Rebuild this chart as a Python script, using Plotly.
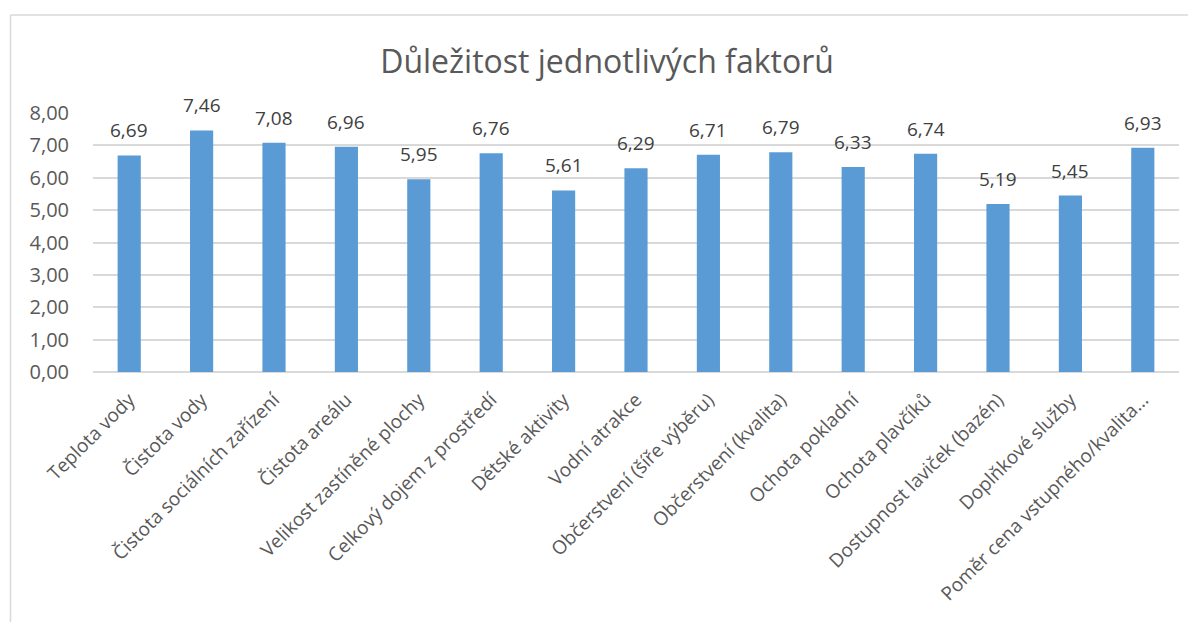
import plotly.graph_objects as go

categories = [
    "Teplota vody", "Čistota vody", "Čistota sociálních zařízení", "Čistota areálu",
    "Velikost zastíněné plochy", "Celkový dojem z prostředí", "Dětské aktivity",
    "Vodní atrakce", "Občerstvení (šíře výběru)", "Občerstvení (kvalita)",
    "Ochota pokladní", "Ochota plavčíků", "Dostupnost laviček (bazén)",
    "Doplňkové služby", "Poměr cena vstupného/kvalita..."
]
values = [6.69, 7.46, 7.08, 6.96, 5.95, 6.76, 5.61, 6.29, 6.71, 6.79, 6.33, 6.74, 5.19, 5.45, 6.93]
y_ticks = [0, 1, 2, 3, 4, 5, 6, 7, 8]

# page body has an 8px margin; figure coordinates below are relative to it
W, H = 1180, 614
L, R, T, B = 85, 9, 105, 250
pw, ph = W - L - R, H - T - B

FONT = "Open Sans"
GRAY = "#595959"


def px(fx):
    return (fx - L) / pw


def py(fy):
    return (H - B - fy) / ph


fig = go.Figure(go.Bar(
    x=categories, y=values,
    marker=dict(color="#5B9BD5", line=dict(width=0)),
    hoverinfo="x+y",
))

annotations = [
    dict(x=c, y=v, xref="x", yref="y", text=f"{v:.2f}".replace(".", ","),
         showarrow=False, yanchor="bottom", yshift=10,
         font=dict(family=FONT, size=19, color="#404040"))
    for c, v in zip(categories, values)
]

fig.update_layout(
    width=W, height=H,
    margin=dict(l=L, r=R, t=T, b=B, autoexpand=False),
    paper_bgcolor="white", plot_bgcolor="white",
    separators=", ",
    bargap=0.68,
    title=dict(text="Důležitost jednotlivých faktorů", x=599 / W, xref="container", xanchor="center",
               y=1 - 54 / H, yref="container", yanchor="middle",
               font=dict(family=FONT, size=32, color=GRAY)),
    showlegend=False,
    annotations=annotations,
    shapes=[
        dict(type="line", xref="paper", yref="paper", x0=px(2.5), x1=px(W + 5), y0=py(7), y1=py(7),
             line=dict(color="#D9D9D9", width=1.5), layer="below"),
        dict(type="line", xref="paper", yref="paper", x0=px(2.5), x1=px(2.5), y0=py(7), y1=py(H + 5),
             line=dict(color="#D9D9D9", width=1.5), layer="below"),
    ],
)
fig.update_xaxes(tickangle=-45, tickfont=dict(family=FONT, size=19, color=GRAY),
                 showgrid=False, showline=False, ticks="", automargin=False,
                 ticklabelstandoff=12)
fig.update_yaxes(range=[0, 8], tickvals=y_ticks, tickformat=".2f",
                 tickfont=dict(family=FONT, size=20, color=GRAY),
                 showgrid=True, gridcolor="#D9D9D9", gridwidth=1.5,
                 zeroline=True, zerolinecolor="#D9D9D9", zerolinewidth=1.5,
                 showline=False, ticks="", ticklabelstandoff=23, automargin=False)

fig.write_html("out.html")
